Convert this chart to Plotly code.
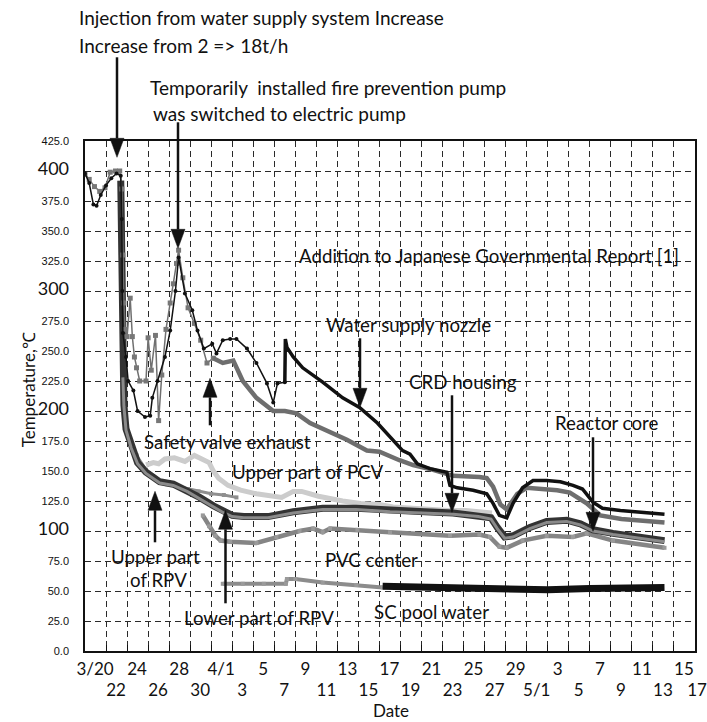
import plotly.graph_objects as go

# ---------------- data (x = days since 3/20; 12 = 4/1, 42 = 5/1) ----------------
DAY_TICKS = list(range(0, 59, 2))
ROW1_DAYS = list(range(0, 59, 4))
ROW1_LABELS = ["3/20", "24", "28", "4/1", "5", "9", "13", "17", "21", "25", "29", "3", "7", "11", "15"]
ROW2_DAYS = list(range(2, 59, 4))
ROW2_LABELS = ["22", "26", "30", "3", "7", "11", "15", "19", "23", "27", "5/1", "5", "9", "13", "17"]
Y_TICKS = list(range(0, 426, 25))
Y_LABELS = ["0.0", "25.0", "50.0", "75.0", "100", "125.0", "150.0", "175.0", "200",
            "225.0", "250.0", "275.0", "300", "325.0", "350.0", "375.0", "400", "425.0"]

water_supply_nozzle = [(0.0, 398), (0.4, 390), (0.8, 372), (1.1, 371), (1.5, 380), (2.0, 388), (2.5, 394),
                       (3.0, 398), (3.4, 396), (3.5, 360), (3.55, 300), (3.6, 265), (3.9, 245), (4.1, 225),
                       (4.6, 217), (5.0, 200), (5.7, 195), (6.2, 196), (6.4, 211), (6.9, 225), (7.6, 245),
                       (8.1, 267), (8.6, 300), (8.9, 328), (9.5, 298), (10.2, 284), (10.7, 267), (11.3, 252),
                       (12.1, 256), (12.5, 248), (13.1, 259), (13.8, 260), (14.4, 260), (15.4, 252), (16.3, 240),
                       (17.3, 223), (17.9, 207), (18.3, 223), (19.0, 224), (19.05, 260), (19.2, 253), (19.8, 245),
                       (20.7, 236), (22.6, 224), (24.5, 211), (26.1, 203), (27.8, 190), (29.3, 176), (30.2, 167),
                       (30.9, 164), (31.6, 156), (32.8, 152), (34.4, 149), (34.7, 138), (35.4, 136), (36.9, 134),
                       (38.2, 131), (38.8, 123), (39.4, 113), (40.1, 111), (40.7, 123), (41.6, 136), (42.6, 142),
                       (43.9, 142), (45.2, 141), (46.4, 138), (47.3, 135), (48.3, 124), (49.2, 119), (50.9, 117),
                       (53.4, 115), (55.1, 114)]

safety_valve_exhaust = [(0.0, 397), (0.4, 393), (0.9, 387), (1.4, 383), (1.9, 386), (2.4, 399), (2.9, 400),
                        (3.3, 400), (3.5, 385), (3.6, 330), (3.7, 290), (3.8, 268), (4.0, 262), (4.3, 294),
                        (4.5, 262), (4.7, 245), (4.9, 236), (5.2, 225), (5.8, 225), (6.0, 261), (6.3, 234),
                        (6.7, 263), (7.0, 192), (7.3, 230), (7.7, 268), (8.1, 290), (8.4, 306), (8.7, 323),
                        (8.9, 334), (9.3, 311), (9.8, 286), (10.4, 273), (11.0, 259), (11.6, 240), (12.2, 244),
                        (13.1, 240), (14.1, 242), (15.0, 225), (16.3, 211), (17.9, 200), (19.0, 200), (20.1, 198),
                        (21.4, 190), (23.0, 184), (24.9, 176), (26.8, 167), (28.0, 166), (29.9, 159), (31.2, 155),
                        (33.1, 151), (34.4, 148), (35.0, 146), (37.5, 145), (38.2, 144), (38.8, 137), (39.5, 122),
                        (40.1, 118), (41.1, 131), (42.0, 136), (44.9, 134), (46.1, 132), (47.7, 123), (49.0, 113),
                        (51.0, 110), (55.1, 107)]

upper_part_of_pcv = [(5.8, 155), (6.5, 157), (7.0, 156), (7.6, 160), (8.5, 161), (9.5, 158), (10.4, 163),
                     (11.0, 160), (11.8, 157), (12.2, 150), (12.7, 144), (13.6, 138), (14.8, 134), (16.3, 131),
                     (17.5, 130), (18.7, 128), (19.8, 133), (20.6, 133), (22.2, 129), (23.2, 127), (24.5, 125),
                     (26.2, 123), (28.0, 122), (29.3, 120), (31.0, 119), (32.9, 118), (34.5, 117), (36.2, 117),
                     (38.0, 116), (38.7, 115)]

upper_part_of_rpv = [(3.4, 392), (3.5, 330), (3.6, 230), (3.7, 205), (3.9, 185), (4.4, 170), (5.0, 157),
                     (5.8, 149), (7.1, 141), (8.4, 139), (9.7, 134), (10.9, 128), (12.2, 121), (13.2, 116),
                     (14.0, 113), (15.1, 112), (17.4, 112), (19.8, 116), (22.6, 119), (25.8, 119), (29.0, 117),
                     (32.3, 116), (35.0, 115), (37.4, 113), (38.6, 111), (39.2, 103), (39.9, 95), (40.7, 96),
                     (42.3, 103), (43.9, 108), (45.8, 109), (47.1, 106), (48.3, 101), (50.2, 98), (52.5, 95),
                     (55.1, 92)]

lower_part_of_rpv = [(3.6, 228), (3.7, 204), (3.9, 184), (4.4, 169), (5.0, 156), (5.8, 148), (7.1, 140),
                     (8.4, 138), (9.7, 133), (10.9, 127), (12.2, 120), (13.2, 115), (14.0, 112), (15.1, 111),
                     (17.4, 111), (19.8, 115), (22.6, 118), (25.8, 118), (29.0, 116), (32.3, 115), (35.0, 114),
                     (37.4, 112), (38.6, 110), (39.2, 102), (39.9, 94), (40.7, 95), (42.3, 102), (43.9, 107),
                     (45.8, 108), (47.1, 105), (48.3, 100), (50.2, 97), (52.5, 94), (55.1, 91)]

rpv_upper_second = [(3.6, 215), (3.8, 196), (4.3, 176), (4.9, 163), (5.8, 151), (6.8, 143), (7.8, 139),
                    (8.8, 137), (9.8, 135), (10.8, 133), (12.0, 131), (13.2, 130), (14.4, 128)]

pvc_center = [(11.2, 113), (11.8, 104), (12.4, 96), (12.9, 92), (13.8, 91), (16.3, 90), (18.2, 95),
              (20.4, 100), (21.7, 102), (22.6, 99), (23.3, 102), (25.9, 101), (29.0, 99), (34.7, 96),
              (37.5, 97), (38.5, 95), (39.4, 87), (40.1, 86), (41.6, 92), (43.9, 96), (46.4, 95),
              (47.7, 98), (50.2, 92), (55.1, 86)]

sc_pool_water_a = [(13.1, 56), (15.0, 56), (17.0, 56), (19.1, 56), (19.2, 60), (20.0, 60), (22.6, 57),
                   (25.8, 55), (28.3, 53)]
sc_pool_water_b = [(28.3, 54), (32.0, 53), (36.0, 52), (40.0, 51), (44.0, 51), (48.0, 52), (52.0, 52),
                   (55.1, 53)]

# ---------------- figure ----------------
fig = go.Figure()


def add(series, color, width, marker=None, msize=0, mcolor=None, dmin=None, dmax=None):
    pts = [p for p in series if (dmin is None or p[0] >= dmin) and (dmax is None or p[0] <= dmax)]
    xs, ys = zip(*pts)
    kw = dict(x=list(xs), y=list(ys), line=dict(color=color, width=width),
              showlegend=False, hoverinfo="skip")
    if marker:
        kw["mode"] = "lines+markers"
        kw["marker"] = dict(symbol=marker, size=msize, color=mcolor or color,
                            line=dict(width=0))
    else:
        kw["mode"] = "lines"
    fig.add_trace(go.Scatter(**kw))


add(sc_pool_water_a, "#8c8c8c", 4, "square", 4, "#9a9a9a")
add(sc_pool_water_b, "#111111", 7)
add(pvc_center, "#858585", 4.5, "square", 4, "#9a9a9a")
add(upper_part_of_pcv, "#cccccc", 5)
add(rpv_upper_second, "#8f8f8f", 3, "square", 4, "#8f8f8f")
add(upper_part_of_rpv, "#333333", 7)
add(lower_part_of_rpv, "#8a8a8a", 3)
add(safety_valve_exhaust, "#707070", 1.5, "square", 5, "#777777", dmax=12.2)
add(safety_valve_exhaust, "#6e6e6e", 4.5, dmin=12.2)
add(water_supply_nozzle, "#111111", 1.5, "circle", 4, "#111111", dmax=19.0)
add(water_supply_nozzle, "#111111", 3.5, dmin=19.0)

# invisible traces that carry the second row of date labels
for xa in ("x2", "x3"):
    fig.add_trace(go.Scatter(x=[0, 58], y=[None, None], xaxis=xa, showlegend=False,
                             hoverinfo="skip", mode="lines"))

# tick text
x_ticktext = []
for d in DAY_TICKS:
    x_ticktext.append(ROW1_LABELS[ROW1_DAYS.index(d)] if d in ROW1_DAYS else "")
y_ticktext = []
for lab in Y_LABELS:
    if "." in lab:
        y_ticktext.append(lab)
    else:
        y_ticktext.append('<span style="font-size:18px;font-family:Lato">' + lab + '</span>')

L, T, R_px, B_px = 85, 140.7, 695, 650.7
W, H = R_px - L, B_px - T


def pp(px, py):
    return (px - L) / W, (B_px - py) / H


grid = dict(showgrid=True, gridcolor="#2a2a2a", gridwidth=1.2, griddash="6px,4px")
row2_axis = dict(range=[0, 58], overlaying="x", anchor="y", side="bottom",
                 tickfont=dict(family="Lato", size=17, color="#111"),
                 showgrid=False, zeroline=False, showline=False, ticks="",
                 ticklabelstandoff=27, ticklabeloverflow="allow", automargin=False)

fig.update_layout(
    width=707, height=722, autosize=False,
    margin=dict(l=L, r=707 - R_px, t=T, b=722 - B_px, autoexpand=False),
    paper_bgcolor="white", plot_bgcolor="white",
    font=dict(family="Lato", color="#111111"),
    xaxis=dict(range=[0, 58], tickvals=DAY_TICKS, ticktext=x_ticktext,
               tickfont=dict(family="Lato", size=17, color="#111"),
               ticks="inside", ticklen=6, tickcolor="#111", tickwidth=1,
               showline=True, linecolor="#111", linewidth=1.5, mirror=True,
               zeroline=False, ticklabelstandoff=2, ticklabelshift=10,
               ticklabeloverflow="allow", automargin=False, **grid),
    xaxis2=dict(tickvals=ROW2_DAYS[:-1], ticktext=ROW2_LABELS[:-1], ticklabelshift=10, **row2_axis),
    xaxis3=dict(tickvals=ROW2_DAYS[-1:], ticktext=ROW2_LABELS[-1:], ticklabelshift=2, **row2_axis),
    yaxis=dict(range=[0, 425], tickvals=Y_TICKS, ticktext=y_ticktext,
               tickfont=dict(family="Liberation Sans", size=11, color="#111"),
               ticks="", showline=True, linecolor="#111", linewidth=1.5, mirror=True,
               zeroline=False, ticklabelstandoff=12, automargin=False, **grid),
    hovermode=False,
)

# ---------------- text annotations ----------------
texts = [
    ("Injection from water supply system Increase", 77, 17, 19),
    ("Increase from 2 => 18t/h", 77, 45, 19),
    ("Temporarily\u00a0 installed fire prevention pump", 148, 87, 19),
    ("was switched to electric pump", 151, 113, 19),
    ("Addition to Japanese Governmental Report [1]", 297, 256, 18.7),
    ("Water supply nozzle", 324, 325, 18.7),
    ("CRD housing", 407, 382, 18.7),
    ("Reactor core", 553, 423, 18.7),
    ("Safety valve exhaust", 142, 442, 18.7),
    ("Upper part of PCV", 230, 472, 18.7),
    ("Upper part", 109, 557, 18.7),
    ("of RPV", 128, 580, 18.7),
    ("PVC center", 323, 560, 18.7),
    ("Lower part of RPV", 182, 618, 18.7),
    ("SC pool water", 372, 612, 18.7),
]
for t, px, py, fs in texts:
    x, y = pp(px, py)
    fig.add_annotation(x=x, y=y, xref="paper", yref="paper", text=t, showarrow=False,
                       xanchor="left", yanchor="middle", font=dict(family="Lato", size=fs, color="#111"))

# axis titles
x, y = pp(28, 390)
fig.add_annotation(x=x, y=y, xref="paper", yref="paper", text="Temperature,\u2103", showarrow=False,
                   textangle=-90, xanchor="center", yanchor="middle",
                   font=dict(family="Lato", size=17, color="#111"))
x, y = pp(391, 710)
fig.add_annotation(x=x, y=y, xref="paper", yref="paper", text="Date", showarrow=False,
                   xanchor="center", yanchor="middle", font=dict(family="Lato", size=17, color="#111"))

# ---------------- arrows ----------------
arrows = [(117, 57, 157), (178, 122, 248), (360, 338, 407), (452, 395, 512), (593, 437, 531),
          (210, 425, 378), (155, 542, 491), (225.5, 603, 510)]
HEAD_LEN, HEAD_HW = 19, 7
for ax_px, tail, tip in arrows:
    direction = 1 if tip > tail else -1
    base = tip - direction * HEAD_LEN
    x0, y0 = pp(ax_px, tail)
    x1, y1 = pp(ax_px, base)
    fig.add_shape(type="line", xref="paper", yref="paper", x0=x0, y0=y0, x1=x1, y1=y1,
                  line=dict(color="#111", width=2.5))
    xl, yb = pp(ax_px - HEAD_HW, base)
    xr, _ = pp(ax_px + HEAD_HW, base)
    xt, yt = pp(ax_px, tip)
    fig.add_shape(type="path", xref="paper", yref="paper",
                  path=f"M {xl},{yb} L {xr},{yb} L {xt},{yt} Z",
                  fillcolor="#111", line=dict(color="#111", width=0.5))

fig.write_html("out.html",
               config={"displayModeBar": False},
               post_script="document.body.style.margin='0px';"
                           "document.documentElement.style.overflow='hidden';")
